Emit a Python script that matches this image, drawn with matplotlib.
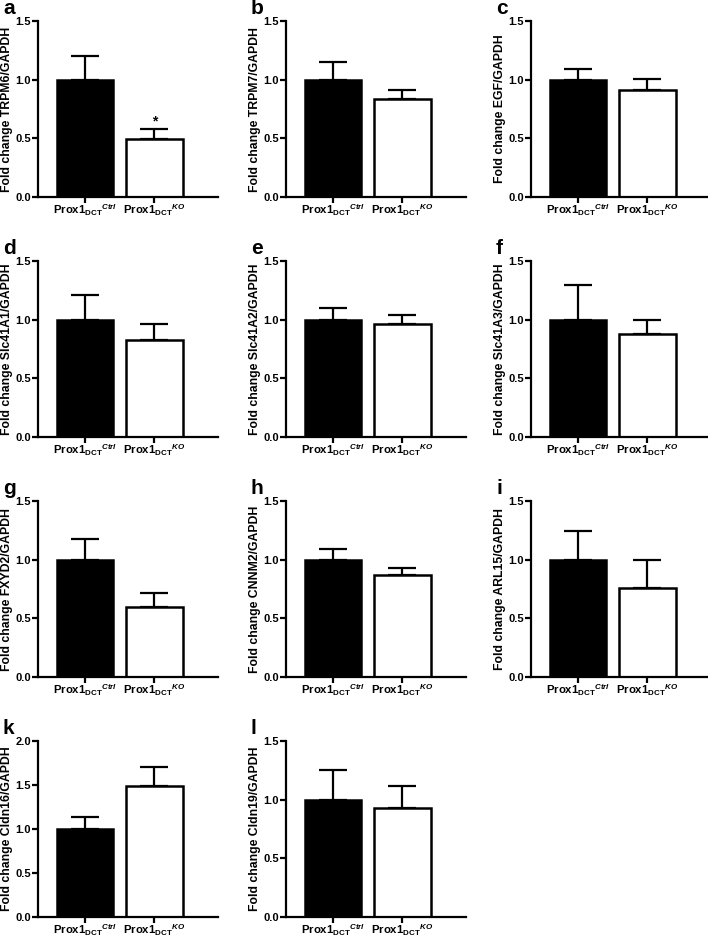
import matplotlib
matplotlib.use("Agg")
import matplotlib.pyplot as plt

plt.rcParams['font.family'] = ['Liberation Sans', 'DejaVu Sans']
plt.rcParams['font.weight'] = 'bold'
plt.rcParams['mathtext.fontset'] = 'custom'
plt.rcParams['mathtext.rm'] = 'Liberation Sans:bold'
plt.rcParams['mathtext.bf'] = 'Liberation Sans:bold'
plt.rcParams['mathtext.it'] = 'Liberation Sans:bold:italic'
plt.rcParams['mathtext.sf'] = 'Liberation Sans:bold'

# ---- data ----
letters = ["a", "b", "c", "d", "e", "f", "g", "h", "i", "k", "l"]
genes = ["TRPM6", "TRPM7", "EGF", "Slc41A1", "Slc41A2", "Slc41A3",
         "FXYD2", "CNNM2", "ARL15", "Cldn16", "Cldn19"]
groups = [r"Prox1$_{\mathrm{DCT}}$$^{Ctrl}$", r"Prox1$_{\mathrm{DCT}}$$^{KO}$"]
ctrl_mean = [1.0, 1.0, 1.0, 1.0, 1.0, 1.0, 1.0, 1.0, 1.0, 1.0, 1.0]
ctrl_err = [0.205, 0.148, 0.09, 0.21, 0.096, 0.292, 0.175, 0.09, 0.247, 0.14, 0.249]
ko_mean = [0.491, 0.837, 0.914, 0.829, 0.965, 0.877, 0.593, 0.870, 0.761, 1.492, 0.932]
ko_err = [0.092, 0.072, 0.092, 0.135, 0.077, 0.116, 0.123, 0.057, 0.239, 0.208, 0.188]
ymax = [1.5, 1.5, 1.5, 1.5, 1.5, 1.5, 1.5, 1.5, 1.5, 2.0, 1.5]
significant = [True, False, False, False, False, False, False, False, False, False, False]

W, H = 708, 938
fig = plt.figure(figsize=(W / 100, H / 100), dpi=100)

col_left = [38, 286, 531]
row_top = [21, 261, 501, 741]
ax_w, ax_h = 180, 176

for i, gene in enumerate(genes):
    r, c = divmod(i, 3)
    left = col_left[c]
    top = row_top[r]
    ax = fig.add_axes([left / W, 1 - (top + ax_h) / H, ax_w / W, ax_h / H])
    means = [ctrl_mean[i], ko_mean[i]]
    errs = [ctrl_err[i], ko_err[i]]
    x = [0, 1]
    ax.errorbar(x, means, yerr=[[0, 0], errs], fmt='none', ecolor='black',
                elinewidth=1.6, capsize=10, capthick=1.6, zorder=1)
    ax.bar(x, means, width=0.82, color=['black', 'white'], edgecolor='black',
           linewidth=1.8, zorder=2)
    if significant[i]:
        ax.text(1, ko_mean[i] + ko_err[i] + 0.005, "*", ha='center', va='bottom',
                fontsize=10, fontweight='bold')
    ax.set_xlim(-0.68, 1.92)
    ax.set_ylim(0, ymax[i])
    step = 0.5
    ticks = [k * step for k in range(int(round(ymax[i] / step)) + 1)]
    ax.set_yticks(ticks)
    ax.set_yticklabels([f"{t:.1f}" for t in ticks], fontsize=8, fontweight='bold')
    ax.set_xticks(x)
    ax.set_xticklabels(groups, fontsize=8.2)
    for s in ['top', 'right']:
        ax.spines[s].set_visible(False)
    for s in ['left', 'bottom']:
        ax.spines[s].set_linewidth(1.6)
    ax.tick_params(axis='both', length=4, width=1.6, direction='out')
    ax.tick_params(axis='y', pad=1.2)
    ax.tick_params(axis='x', pad=0)
    ax.set_ylabel(f"Fold change {gene}/GAPDH", fontsize=8.8, fontweight='bold', labelpad=1.2)
    fig.text((left - 35) / W, 1 - (top - 7) / H, letters[i], fontsize=15,
             fontweight='bold', ha='left', va='baseline')

fig.savefig("out.png", dpi=100)
